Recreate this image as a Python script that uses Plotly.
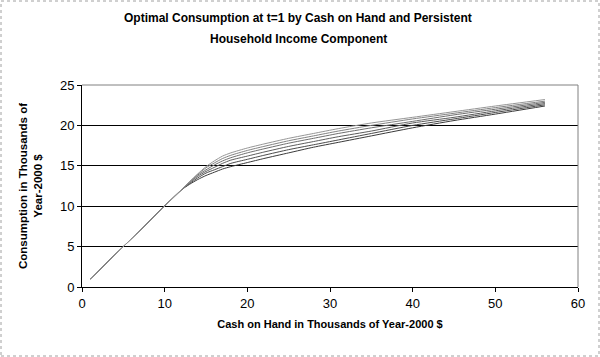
import plotly.graph_objects as go

cash = [1, 4, 8, 12, 13, 14, 15, 16, 17, 18, 20, 22, 25, 28, 31, 35, 40, 45, 50, 56]

series = {
    "Income 1": [1.0, 4.0, 8.0, 12.0, 12.7, 13.3, 13.8, 14.2, 14.6, 14.9, 15.4, 15.9, 16.6, 17.3, 17.9, 18.7, 19.7, 20.6, 21.4, 22.4],
    "Income 2": [1.0, 4.0, 8.0, 12.0, 12.8, 13.5, 14.1, 14.5, 14.9, 15.3, 15.8, 16.3, 17.0, 17.6, 18.2, 19.0, 20.0, 20.8, 21.6, 22.55],
    "Income 3": [1.0, 4.0, 8.0, 12.0, 12.9, 13.7, 14.3, 14.8, 15.3, 15.7, 16.2, 16.7, 17.4, 18.0, 18.6, 19.3, 20.3, 21.0, 21.8, 22.7],
    "Income 4": [1.0, 4.0, 8.0, 12.0, 13.0, 13.85, 14.5, 15.1, 15.6, 16.0, 16.6, 17.1, 17.8, 18.4, 19.0, 19.7, 20.5, 21.3, 22.0, 22.85],
    "Income 5": [1.0, 4.0, 8.0, 12.0, 13.0, 13.95, 14.75, 15.35, 15.9, 16.3, 16.9, 17.4, 18.1, 18.7, 19.3, 20.0, 20.8, 21.5, 22.2, 23.0],
    "Income 6": [1.0, 4.0, 8.0, 12.0, 13.0, 14.0, 14.9, 15.6, 16.2, 16.6, 17.2, 17.7, 18.4, 19.0, 19.6, 20.3, 21.0, 21.7, 22.4, 23.2],
}

title_lines = ["Optimal Consumption at t=1 by Cash on Hand and Persistent",
               "Household Income Component"]

colors = ["#3a3a3a", "#4a4a4a", "#5c5c5c", "#6e6e6e", "#828282", "#969696"]

x_ticks = [0, 10, 20, 30, 40, 50, 60]
y_ticks = [0, 5, 10, 15, 20, 25]

fig = go.Figure()
for (name, vals), c in zip(series.items(), colors):
    fig.add_trace(go.Scatter(x=cash, y=vals, mode="lines", name=name,
                             line=dict(color=c, width=1, shape="spline", smoothing=0.6)))

font_family = "Liberation Sans, Arial, sans-serif"

# plot area: 82..578 px horizontally, 85..287 px vertically
PW, PH, T, L = 496, 202, 85, 82

def px_y(py):
    return 1 + (T - py) / PH

def px_x(px):
    return (px - L) / PW

annotations = [
    dict(text="<b>" + title_lines[0] + "</b>", xref="paper", yref="paper",
         x=px_x(298), y=px_y(18), xanchor="center", yanchor="middle", showarrow=False,
         font=dict(size=12, family=font_family, color="black")),
    dict(text="<b>" + title_lines[1] + "</b>", xref="paper", yref="paper",
         x=px_x(298), y=px_y(39), xanchor="center", yanchor="middle", showarrow=False,
         font=dict(size=12, family=font_family, color="black")),
]

fig.update_layout(
    width=600, height=357,
    margin=dict(l=82, r=22, t=85, b=70),
    paper_bgcolor="white", plot_bgcolor="white",
    showlegend=False,
    font=dict(family=font_family, color="black", size=13),
    annotations=annotations,
    xaxis=dict(
        range=[0, 60], tickvals=x_ticks, ticks="outside", ticklen=4, tickcolor="black",
        showline=True, linecolor="black", linewidth=1, showgrid=False, zeroline=False,
        tickfont=dict(size=13),
        title=dict(text="<b>Cash on Hand in Thousands of Year-2000 $</b>", font=dict(size=11), standoff=10),
    ),
    yaxis=dict(
        range=[0, 25], tickvals=y_ticks, ticks="outside", ticklen=4, tickcolor="black",
        showline=True, linecolor="black", linewidth=1, showgrid=True, gridcolor="black", gridwidth=1,
        zeroline=False, tickfont=dict(size=13),
        title=dict(text="<b>Consumption in Thousands of<br>Year-2000 $</b>", font=dict(size=11.5), standoff=14),
    ),
    shapes=[
        dict(type="line", xref="paper", yref="paper", x0=0, x1=1, y0=1, y1=1,
             line=dict(color="#808080", width=1), layer="above"),
        dict(type="line", xref="paper", yref="paper", x0=1, x1=1, y0=0, y1=1,
             line=dict(color="#808080", width=1), layer="above"),
        dict(type="rect", xref="paper", yref="paper",
             x0=px_x(1), x1=px_x(599), y0=px_y(356), y1=px_y(1),
             line=dict(color="#a0a0a0", width=1, dash="dot"), layer="above"),
    ],
)

fig.write_html("out.html", config={"displayModeBar": False},
               post_script="document.body.style.margin='0';")
